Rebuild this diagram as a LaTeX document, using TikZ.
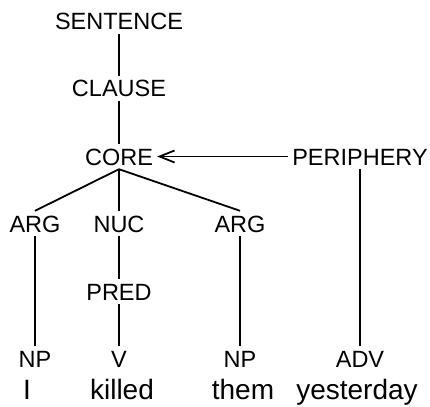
\documentclass[tikz,border=0pt]{standalone}
\usepackage{fontspec}
\setmainfont{Liberation Sans}
\usetikzlibrary{arrows.meta}
\begin{document}
\begin{tikzpicture}[x=1pt,y=-1pt,
  lab/.style={anchor=base,inner sep=4pt,text height=17pt,text depth=0pt,font=\fontsize{23.5pt}{28pt}\selectfont},
  word/.style={anchor=base,inner sep=0pt,font=\fontsize{28pt}{32pt}\selectfont},
  edge/.style={line width=1.8pt}]
\useasboundingbox (0,0) rectangle (430,406);
\node[lab] (sent) at (119,30) {SENTENCE};
\node[lab] (clause) at (119,97) {CLAUSE};
\node[lab] (core) at (119,165) {CORE};
\node[lab] (peri) at (360,165) {PERIPHERY};
\node[lab] (arg1) at (35,232) {ARG};
\node[lab] (nuc) at (119,232) {NUC};
\node[lab] (arg2) at (240,232) {ARG};
\node[lab] (pred) at (119,300) {PRED};
\node[lab] (np1) at (35,367) {NP};
\node[lab] (v) at (119,367) {V};
\node[lab] (np2) at (240,367) {NP};
\node[lab] (adv) at (360,367) {ADV};
\node[word] (w1) at (27,399.5) {I};
\node[word] (w2) at (122,399.5) {killed};
\node[word] (w3) at (243,399.5) {them};
\node[word] (w4) at (357,399.5) {yesterday};
\draw[edge] (sent.south) -- (clause.north);
\draw[edge] (clause.south) -- (core.north);
\draw[edge] (core.south) -- (arg1.north);
\draw[edge] (core.south) -- (nuc.north);
\draw[edge] (core.south) -- (arg2.north);
\draw[edge] (nuc.south) -- (pred.north);
\draw[edge] (pred.south) -- (v.north);
\draw[edge] (arg1.south) -- (np1.north);
\draw[edge] (arg2.south) -- (np2.north);
\draw[edge] (peri.south) -- (adv.north);
\draw[edge,-{Straight Barb[length=15pt,width=12pt]}] (peri.west) -- (core.east);
\end{tikzpicture}
\end{document}
